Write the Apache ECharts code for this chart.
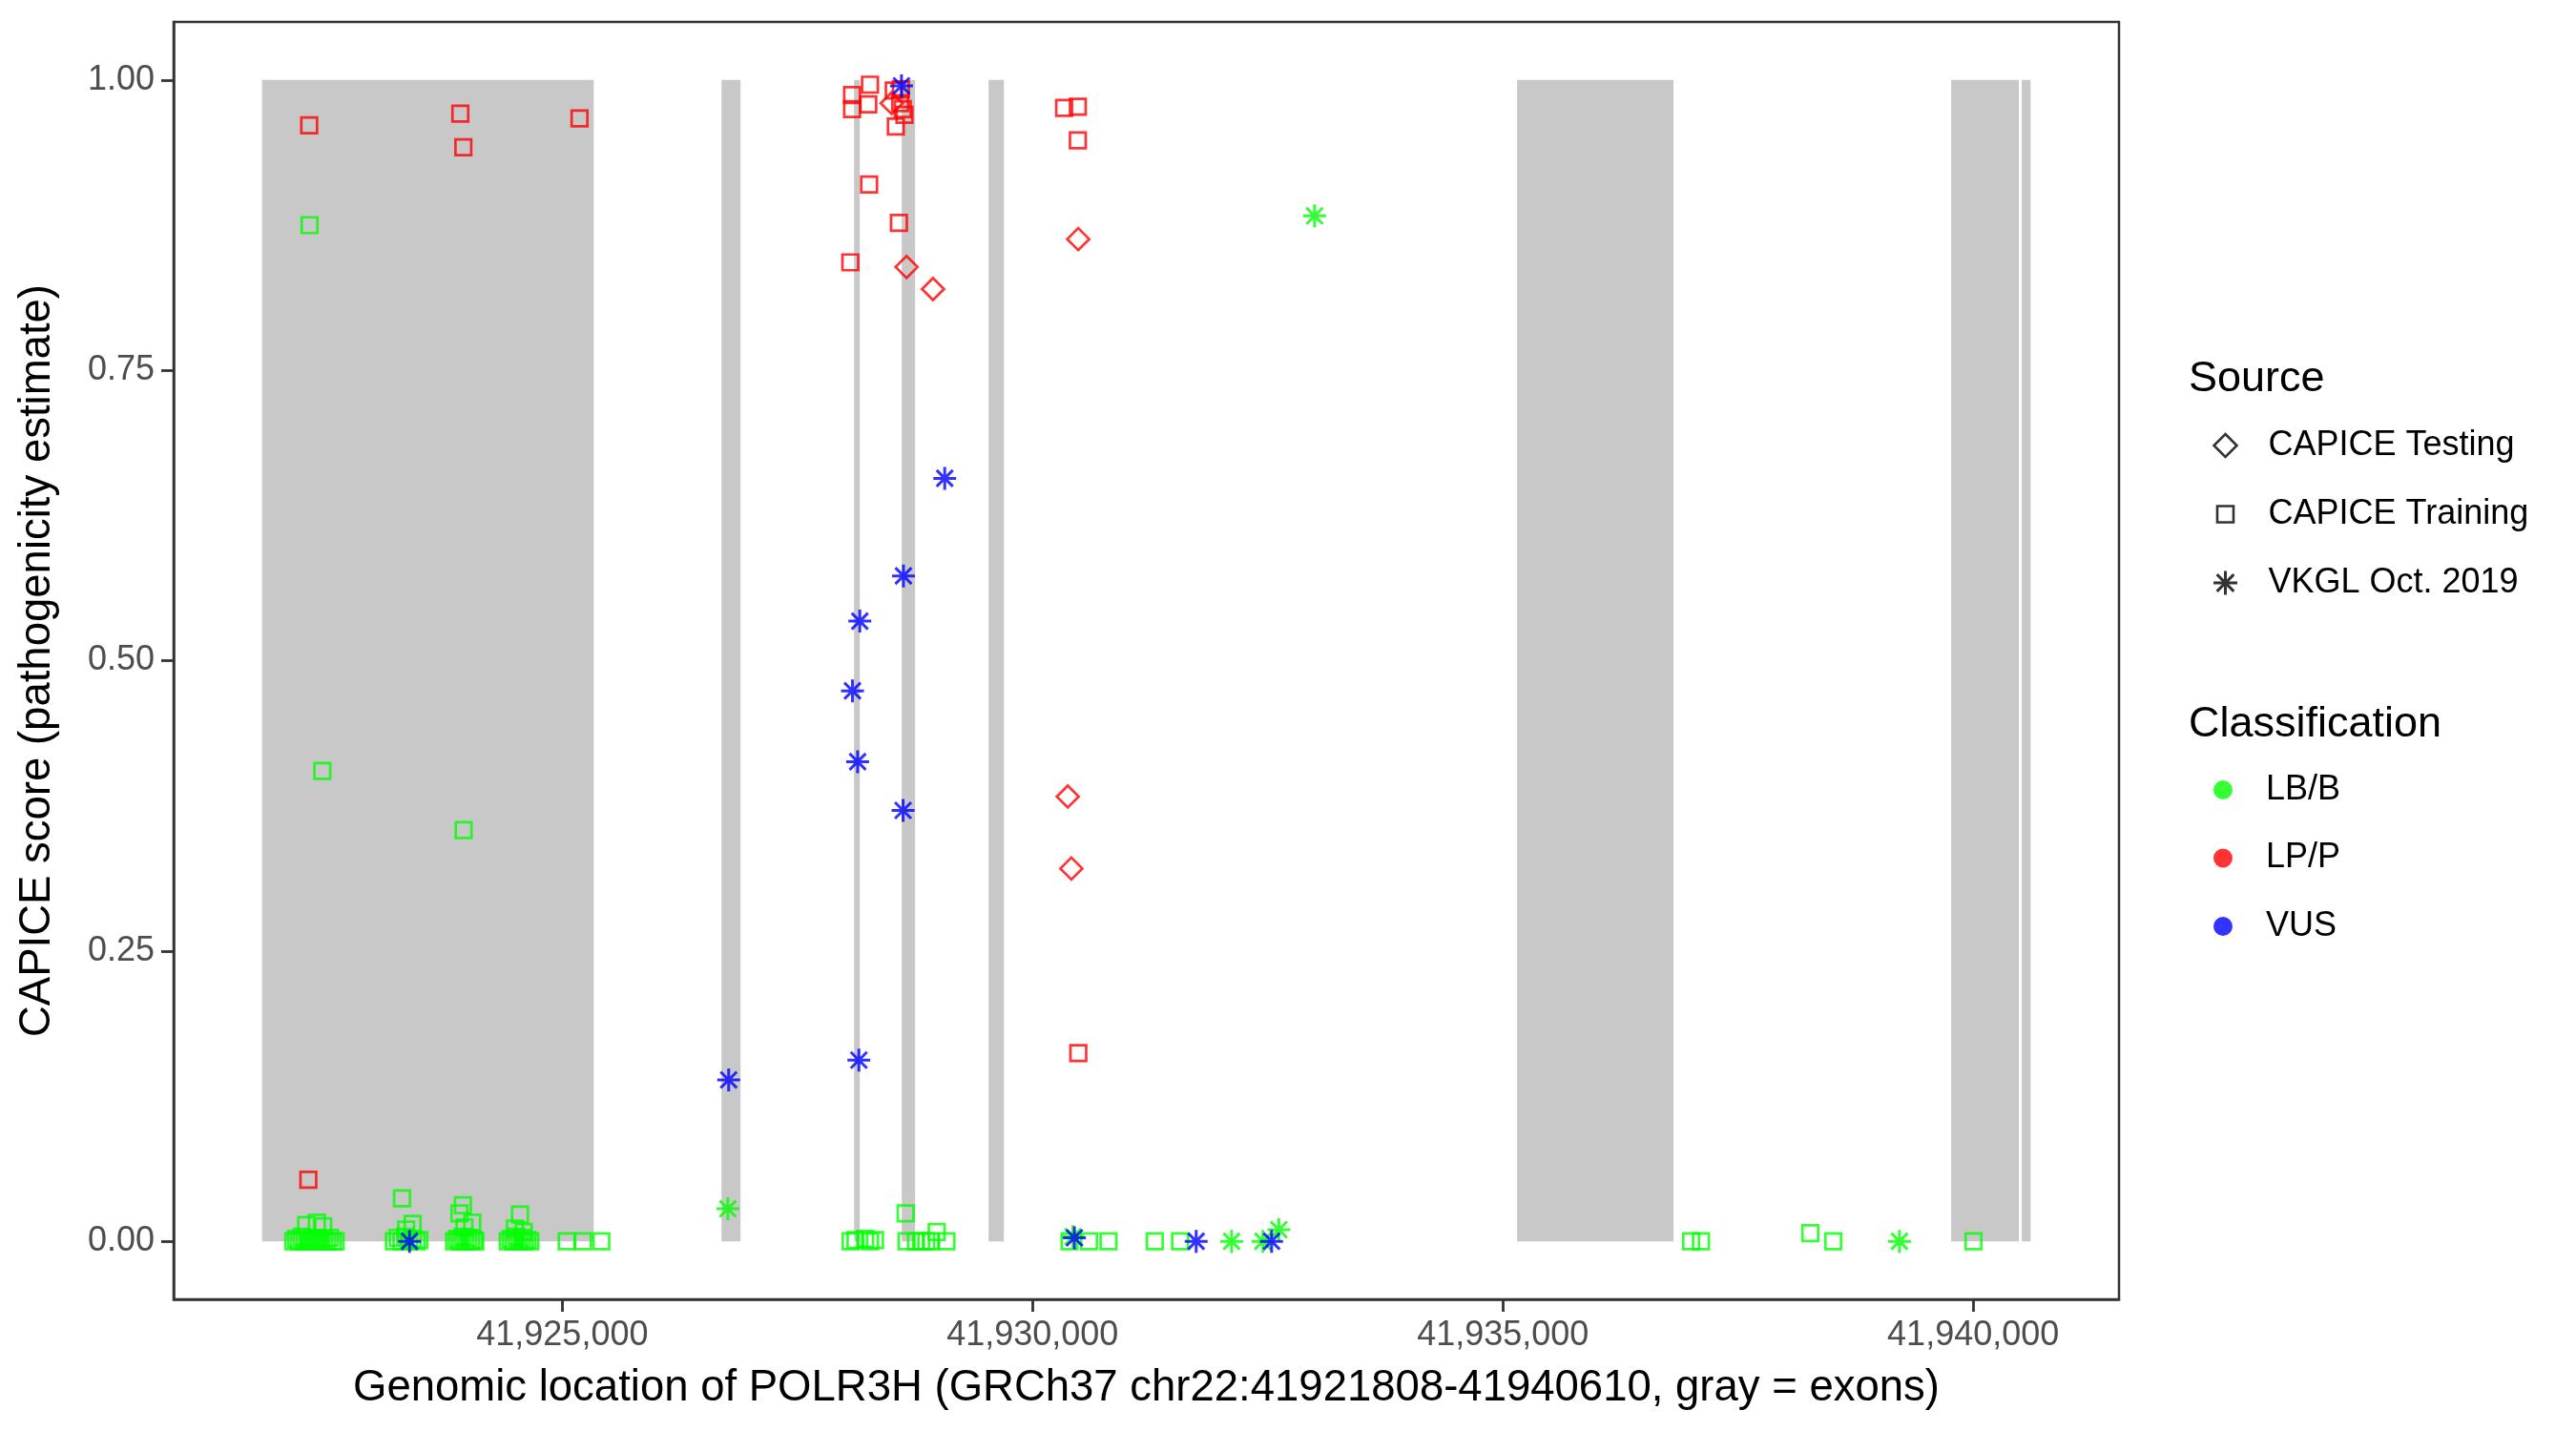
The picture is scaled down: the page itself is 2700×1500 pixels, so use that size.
<!DOCTYPE html>
<html>
<head>
<meta charset="utf-8">
<script src="https://cdn.jsdelivr.net/npm/echarts@6/dist/echarts.min.js"></script>
<style>html,body{margin:0;padding:0;background:#fff}#c{width:2700px;height:1500px}</style>
</head>
<body>
<div id="c"></div>
<script>
// ---- data ----
const exonStarts = [41921808, 41926693, 41928102, 41928609, 41929532, 41935151, 41939766, 41940516];
const exonEnds   = [41925334, 41926895, 41928163, 41928751, 41929695, 41936814, 41940486, 41940610];
const xTicks = [41925000, 41930000, 41935000, 41940000];
const yTicks = [0, 0.25, 0.5, 0.75, 1];

// CAPICE Testing, LP/P (diamonds)
const testingLP = [
  [41928502, 0.980], [41928660, 0.839], [41928941, 0.820], [41930485, 0.863],
  [41930374, 0.383], [41930412, 0.321]
];
// CAPICE Training, LB/B (squares)
const trainingLB = [
  [41922313, 0.875], [41922449, 0.405], [41923951, 0.354],
  [41922140, 0.000], [41922170, 0.002], [41922200, 0.000], [41922230, 0.004], [41922260, 0.000],
  [41922290, 0.001], [41922320, 0.000], [41922350, 0.003], [41922380, 0.000], [41922410, 0.002],
  [41922440, 0.000], [41922470, 0.001], [41922500, 0.000], [41922530, 0.003], [41922560, 0.000],
  [41922590, 0.000], [41922277, 0.014], [41922390, 0.016], [41922458, 0.013],
  [41923210, 0.000], [41923250, 0.003], [41923290, 0.000], [41923330, 0.004], [41923370, 0.000],
  [41923410, 0.002], [41923450, 0.000], [41923480, 0.001], [41923296, 0.037], [41923409, 0.015],
  [41923340, 0.010],
  [41923850, 0.000], [41923880, 0.002], [41923910, 0.000], [41923940, 0.004], [41923970, 0.000],
  [41924000, 0.003], [41924030, 0.000], [41924060, 0.001], [41924075, 0.000],
  [41923943, 0.031], [41923906, 0.024], [41924043, 0.016], [41923960, 0.012],
  [41924420, 0.000], [41924450, 0.002], [41924480, 0.000], [41924510, 0.004], [41924540, 0.000],
  [41924570, 0.003], [41924600, 0.000], [41924630, 0.001], [41924660, 0.000],
  [41924550, 0.023], [41924496, 0.011], [41924590, 0.008],
  [41925047, 0.000], [41925220, 0.000], [41925415, 0.000],
  [41928065, 0.000], [41928117, 0.001], [41928220, 0.002], [41928272, 0.000], [41928324, 0.001],
  [41928650, 0.024], [41928660, 0.000], [41928760, 0.000], [41928815, 0.000], [41928870, 0.000],
  [41928918, 0.000], [41928980, 0.008], [41929084, 0.000],
  [41930393, 0.000], [41930600, 0.000], [41930807, 0.000], [41931299, 0.000], [41931568, 0.000],
  [41937001, 0.000], [41937106, 0.000], [41938268, 0.007], [41938512, 0.000], [41940003, 0.000]
];
// CAPICE Training, LP/P (squares)
const trainingLP = [
  [41922309, 0.961], [41923916, 0.971], [41923948, 0.942], [41925183, 0.967], [41922300, 0.053],
  [41928081, 0.987], [41928081, 0.975], [41928271, 0.996], [41928253, 0.979], [41928524, 0.991],
  [41928600, 0.992], [41928592, 0.980], [41928638, 0.970], [41928620, 0.975], [41928546, 0.960],
  [41928262, 0.910], [41928579, 0.877], [41928062, 0.843],
  [41930335, 0.976], [41930481, 0.977], [41930481, 0.948], [41930486, 0.162]
];
// VKGL Oct. 2019, LB/B (asterisks)
const vkglLB = [
  [41932998, 0.883], [41926760, 0.028], [41932116, 0.000], [41932448, 0.000],
  [41932618, 0.010], [41930430, 0.004], [41939216, 0.000]
];
// VKGL Oct. 2019, VUS (asterisks)
const vkglVUS = [
  [41928606, 0.995], [41929066, 0.657], [41928627, 0.573], [41928163, 0.534], [41928085, 0.474],
  [41928140, 0.413], [41928623, 0.371], [41926769, 0.139], [41928153, 0.156], [41923376, 0.000],
  [41930445, 0.003], [41931739, 0.000], [41932541, 0.000]
];

// ---- styles ----
const FONT = 'Liberation Sans, Arial, Helvetica, sans-serif';
const STAR = 'path://M0,-10L0,10M-10,0L10,0M-7.07,-7.07L7.07,7.07M-7.07,7.07L7.07,-7.07';
const GREEN = '#00FF00', RED = '#FF0000', BLUE = '#0000FF';
const ICON_X = 2330, TEXT_X = 2375;

function pts(name, data, symbol, size, color, bw) {
  return {
    name: name, type: 'scatter', data: data, symbol: symbol, symbolSize: size,
    itemStyle: { color: 'none', borderColor: color, borderWidth: bw },
    silent: true, z: 3
  };
}
function dummy(name) { return { name: name, type: 'scatter', data: [] }; }

function legendBox(items, h, top, gap) {
  return {
    data: items,
    orient: 'vertical', left: ICON_X - h / 2, top: top, itemWidth: h, itemHeight: h,
    itemGap: gap || 0, padding: 0, selectedMode: false,
    textStyle: { fontSize: 36, color: '#000', fontFamily: FONT, lineHeight: 40,
                 padding: [0, 0, 0, TEXT_X - (ICON_X + h / 2 + 5)] }
  };
}
const srcStyle = { color: 'none', borderColor: '#000', borderWidth: 2.6 };
const axisLineStyle = { show: true, onZero: false, lineStyle: { color: '#333333', width: 2.5 } };

const chart = echarts.init(document.getElementById('c'), null, { renderer: 'canvas' });
chart.setOption({
  backgroundColor: '#fff',
  animation: false,
  textStyle: { fontFamily: FONT },
  title: [
    { text: 'Source', left: 2294, top: 372, padding: 0,
      textStyle: { fontSize: 45, fontWeight: 'normal', color: '#000', fontFamily: FONT, lineHeight: 52 } },
    { text: 'Classification', left: 2294, top: 734, padding: 0,
      textStyle: { fontSize: 45, fontWeight: 'normal', color: '#000', fontFamily: FONT, lineHeight: 52 } }
  ],
  legend: [
    legendBox([{ name: 'CAPICE Testing', icon: 'diamond', itemStyle: srcStyle }], 24, 447),
    legendBox([{ name: 'CAPICE Training', icon: 'rect', itemStyle: srcStyle }], 17, 519),
    legendBox([{ name: 'VKGL Oct. 2019', icon: STAR, itemStyle: { color: 'none', borderColor: '#000', borderWidth: 3 } }], 25, 591),
    legendBox([
        { name: 'LB/B', icon: 'circle', itemStyle: { color: GREEN, borderWidth: 0 } },
        { name: 'LP/P', icon: 'circle', itemStyle: { color: RED, borderWidth: 0 } },
        { name: 'VUS', icon: 'circle', itemStyle: { color: BLUE, borderWidth: 0 } }
      ], 20, 808, 31.5)
  ],
  grid: {
    left: 182, right: 479, top: 23, bottom: 138,
    show: true, borderColor: '#333333', borderWidth: 2.5, backgroundColor: 'transparent',
    containLabel: false, outerBoundsMode: 'none'
  },
  xAxis: {
    type: 'value', min: 41920868, max: 41941550,
    name: 'Genomic location of POLR3H (GRCh37 chr22:41921808-41940610, gray = exons)',
    nameLocation: 'middle', nameGap: 70,
    nameTextStyle: { fontSize: 45.5, color: '#000', fontFamily: FONT },
    axisLine: axisLineStyle,
    splitLine: { show: false },
    axisTick: { show: true, length: 13, customValues: xTicks, lineStyle: { color: '#333333', width: 2.8 } },
    axisLabel: {
      show: true, customValues: xTicks, margin: 20, fontSize: 36, color: '#4D4D4D', fontFamily: FONT,
      formatter: v => Math.round(v).toString().replace(/\B(?=(\d{3})+(?!\d))/g, ',')
    }
  },
  yAxis: {
    type: 'value', min: -0.05, max: 1.05,
    name: 'CAPICE score (pathogenicity estimate)',
    nameLocation: 'middle', nameGap: 120, nameRotate: 90,
    nameTextStyle: { fontSize: 45.5, color: '#000', fontFamily: FONT },
    axisLine: axisLineStyle,
    splitLine: { show: false },
    axisTick: { show: true, length: 13, customValues: yTicks, lineStyle: { color: '#333333', width: 2.8 } },
    axisLabel: {
      show: true, customValues: yTicks, margin: 20, fontSize: 36, color: '#4D4D4D', fontFamily: FONT,
      formatter: v => v.toFixed(2)
    }
  },
  series: [
    {
      type: 'custom', name: 'exons', silent: true, z: 1,
      data: exonStarts.map((s, i) => [s, exonEnds[i], 0, 1]),
      encode: { x: [0, 1], y: [2, 3] },
      renderItem: function (params, api) {
        const p0 = api.coord([api.value(0), api.value(3)]);
        const p1 = api.coord([api.value(1), api.value(2)]);
        return { type: 'rect', shape: { x: p0[0], y: p0[1], width: p1[0] - p0[0], height: p1[1] - p0[1] },
                 style: { fill: '#C8C8C8' } };
      }
    },
    pts('Testing LP/P', testingLP, 'diamond', 23, RED, 2.7),
    pts('Training LB/B', trainingLB, 'rect', 16.5, GREEN, 2.7),
    pts('Training LP/P', trainingLP, 'rect', 16.5, RED, 2.7),
    pts('VKGL LB/B', vkglLB, STAR, 24, GREEN, 3),
    pts('VKGL VUS', vkglVUS, STAR, 24, BLUE, 3),
    dummy('CAPICE Testing'), dummy('CAPICE Training'), dummy('VKGL Oct. 2019'),
    dummy('LB/B'), dummy('LP/P'), dummy('VUS')
  ]
});
</script>
</body>
</html>
